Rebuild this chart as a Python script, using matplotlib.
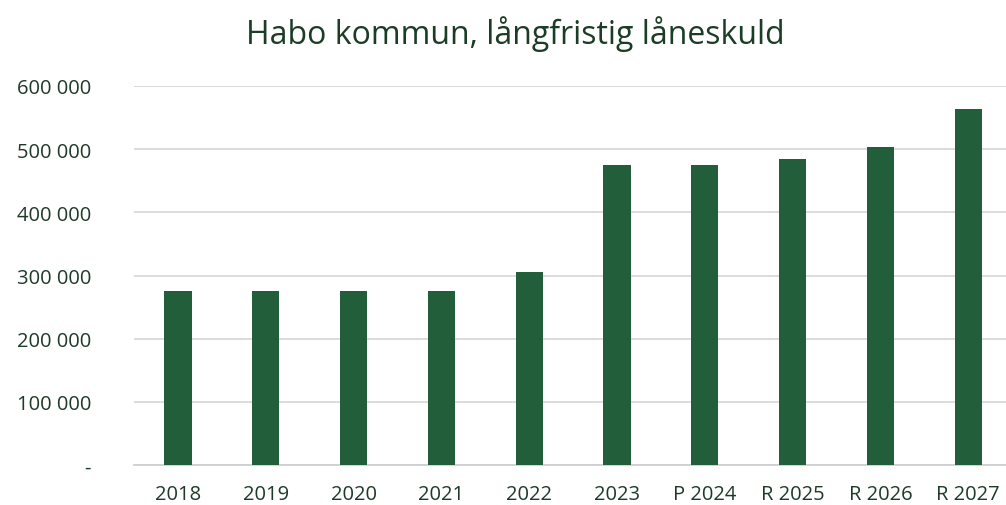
import matplotlib
matplotlib.use("Agg")
import matplotlib.pyplot as plt
from matplotlib.ticker import FuncFormatter

categories = ["2018", "2019", "2020", "2021", "2022", "2023", "P 2024", "R 2025", "R 2026", "R 2027"]
values = [275000, 275000, 275000, 275000, 305000, 475000, 475000, 484000, 504000, 564000]
title = "Habo kommun, långfristig låneskuld"

plt.rcParams['font.family'] = ['Open Sans', 'DejaVu Sans']

W, H = 1006, 506
fig = plt.figure(figsize=(W / 100, H / 100), dpi=100)
ax = fig.add_axes([134 / W, (H - 466) / H, (1006 - 134) / W, (466 - 87) / H])

bar_color = "#235e3a"
text_color = "#1e3a28"

x = list(range(len(categories)))
ax.bar(x, values, width=0.31, color=bar_color, zorder=3)
ax.set_xlim(-0.5, 9.43)
ax.set_ylim(0, 600000)
ax.set_yticks(range(0, 600001, 100000))

def fmt(v, pos):
    if v == 0:
        return "-"
    return f"{int(v):,}".replace(",", " ")

ax.yaxis.set_major_formatter(FuncFormatter(fmt))
ax.set_xticks(x)
ax.set_xticklabels(categories)
ax.grid(axis="y", color="#d9d9d9", linewidth=1.3, zorder=0)
for s in ["top", "right", "left"]:
    ax.spines[s].set_visible(False)
ax.spines["bottom"].set_color("#d0d0d0")
ax.spines["bottom"].set_linewidth(1.3)
ax.tick_params(axis="both", length=0, labelsize=14.5, labelcolor=text_color)
ax.tick_params(axis="y", pad=31)
ax.tick_params(axis="x", pad=14)
for lab in ax.get_yticklabels():
    lab.set_horizontalalignment("right")

fig.text(515 / W, 1 - 34 / H, title, ha="center", va="center", fontsize=23, color="#1b3d26")

fig.savefig("out.png", dpi=100)
